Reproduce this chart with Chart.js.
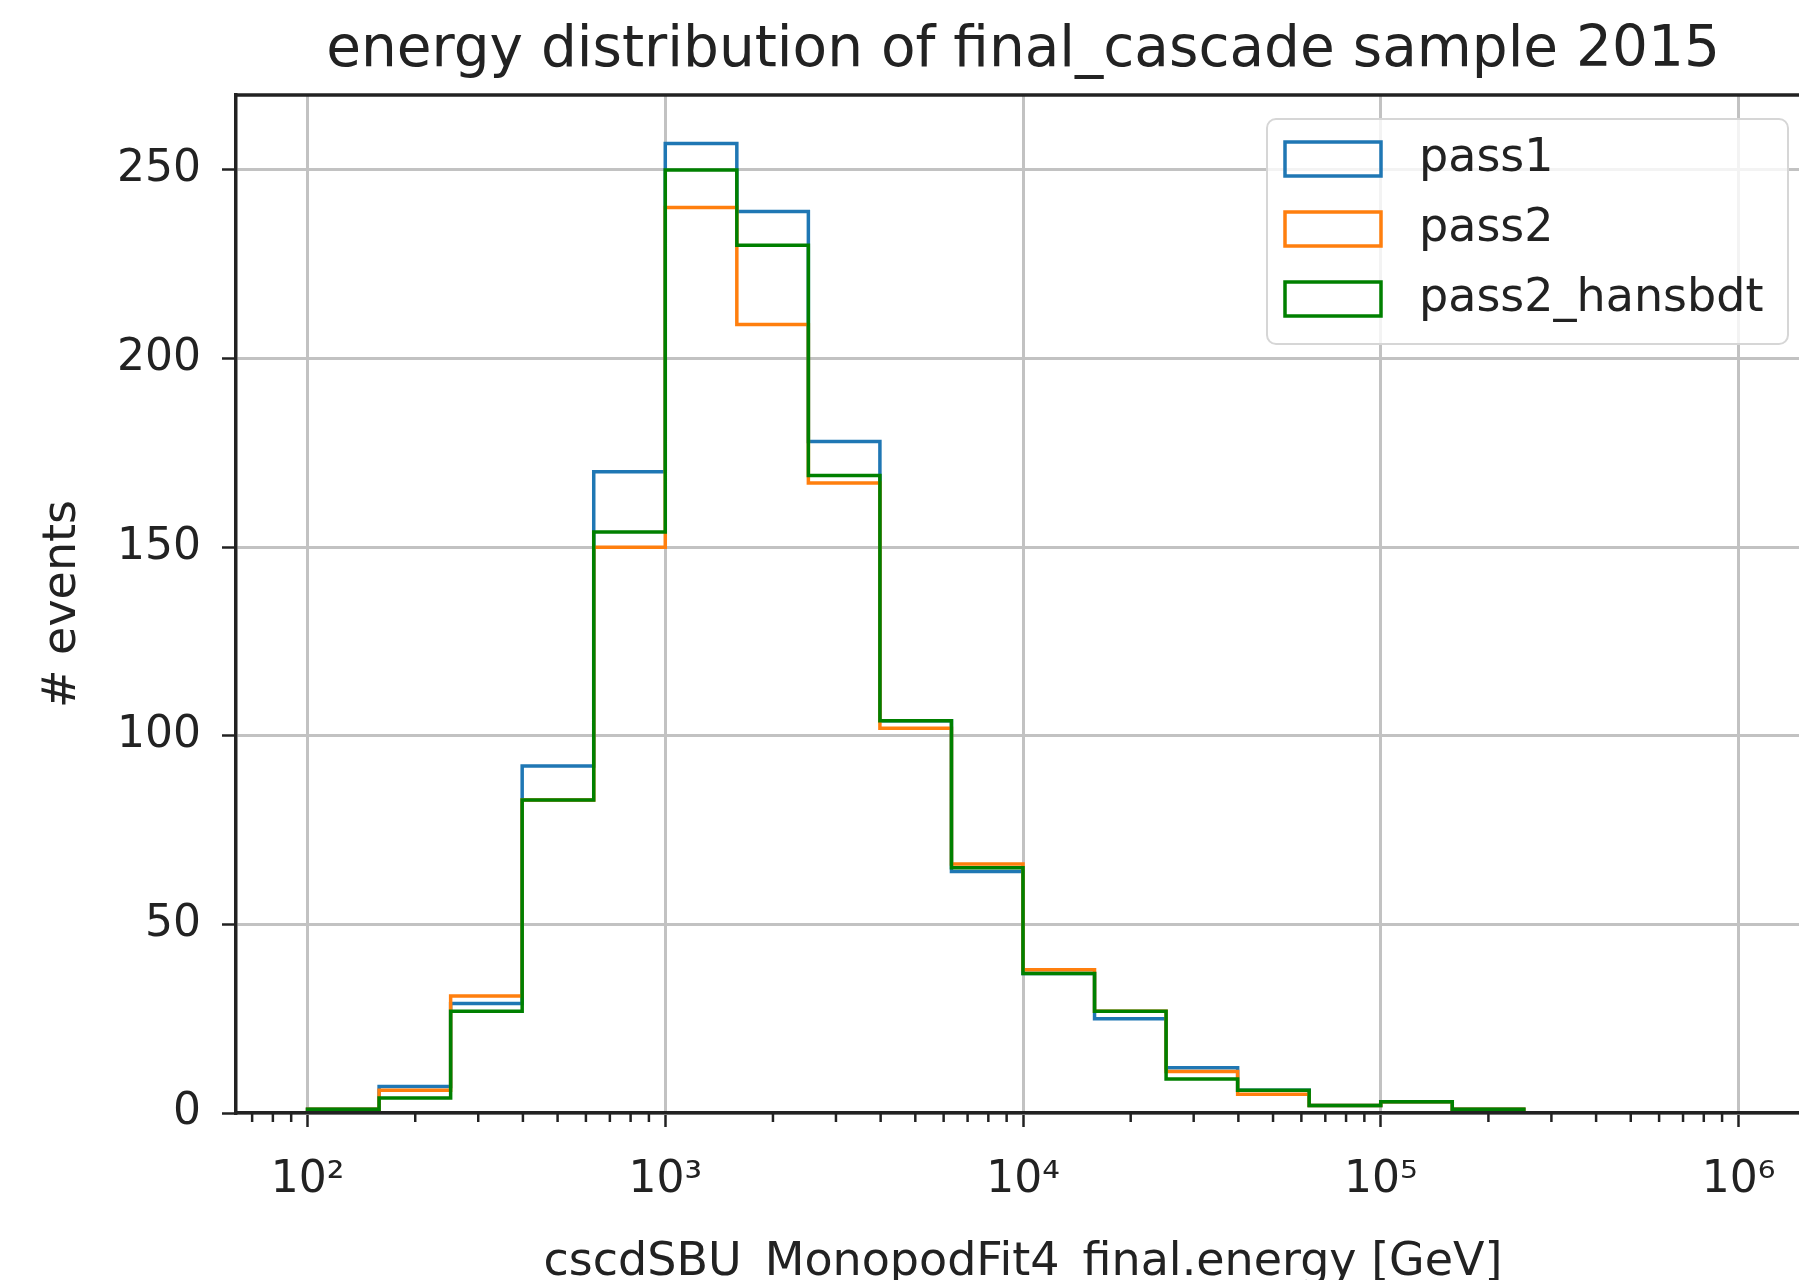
<!DOCTYPE html>
<html>
<head>
<meta charset="utf-8">
<title>energy distribution of final_cascade sample 2015</title>
<script src="https://cdn.jsdelivr.net/npm/chart.js@4.4.1/dist/chart.umd.min.js"></script>
<style>
  html, body { margin: 0; padding: 0; background: #fff; overflow: hidden; }
  #wrap { position: relative; width: 1799px; height: 1280px; overflow: hidden; }
  #hist { position: absolute; left: 0; top: 0; }
</style>
</head>
<body>
<div id="wrap"><canvas id="hist" width="1840" height="1320"></canvas></div>
<script>
// bin edges in GeV (5 log bins per decade, 10^2 .. 10^6)
var binEdges = [100, 158.5, 251.2, 398.1, 631.0, 1000, 1585, 2512, 3981, 6310,
  10000, 15849, 25119, 39811, 63096, 100000, 158489, 251189, 398107, 630957, 1000000];

// counts per bin
var pass1 = [1, 7, 29, 92, 170, 257, 239, 178, 104, 64, 37, 25, 12, 6, 2, 3, 1, 0, 0, 0];
var pass2 = [1, 6, 31, 83, 150, 240, 209, 167, 102, 66, 38, 27, 11, 5, 2, 3, 1, 0, 0, 0];
var pass2Hansbdt = [1, 4, 27, 83, 154, 250, 230, 169, 104, 65, 37, 27, 9, 6, 2, 3, 1, 0, 0, 0];

var seriesNames = ["pass1", "pass2", "pass2_hansbdt"];
var seriesColors = ["#1f77b4", "#ff7f0e", "#008000"];

var xTicks = [100, 1000, 10000, 100000, 1000000];
var xTickLabels = ["10²", "10³", "10⁴", "10⁵", "10⁶"];
var yTicks = [0, 50, 100, 150, 200, 250];

var xMin = Math.pow(10, 1.8);
var xMax = Math.pow(10, 6.2);
var yMax = 257 * 1.05;

var font = "DejaVu Sans";
var ink = "#222222";

// outline of a step histogram: up at the first edge, across each bin, down at the last edge
function stepPoints(counts) {
  var pts = [{x: binEdges[0], y: 0}];
  for (var i = 0; i < counts.length; i++) {
    pts.push({x: binEdges[i], y: counts[i]});
  }
  pts.push({x: binEdges[counts.length], y: 0});
  return pts;
}

function makeSet(i, counts) {
  return {
    label: seriesNames[i],
    data: stepPoints(counts),
    borderColor: seriesColors[i],
    backgroundColor: seriesColors[i],
    borderWidth: 3.5,
    stepped: true,
    fill: false,
    pointRadius: 0,
    borderJoinStyle: "miter",
    order: 3 - i
  };
}

var extras = {
  id: "extras",
  afterDraw: function(chart) {
    var ctx = chart.ctx;
    var area = chart.chartArea;
    var xs = chart.scales.x;
    ctx.save();

    // top spine
    ctx.strokeStyle = ink;
    ctx.lineWidth = 3.5;
    ctx.beginPath();
    ctx.moveTo(area.left - 1.75, area.top);
    ctx.lineTo(area.right, area.top);
    ctx.stroke();

    // minor ticks of the log axis
    ctx.lineWidth = 2.5;
    for (var k = 1; k <= 6; k++) {
      for (var m = 2; m <= 9; m++) {
        var v = m * Math.pow(10, k);
        if (v < xMin || v > xMax) continue;
        var px = xs.getPixelForValue(v);
        ctx.beginPath();
        ctx.moveTo(px, area.bottom);
        ctx.lineTo(px, area.bottom + 9);
        ctx.stroke();
      }
    }

    // title
    ctx.fillStyle = ink;
    ctx.font = "56.5px '" + font + "'";
    ctx.textAlign = "center";
    ctx.textBaseline = "alphabetic";
    ctx.fillText("energy distribution of final_cascade sample 2015", (area.left + area.right) / 2, 66);

    // legend box
    var lx = 1267, ly = 119, lw = 521, lh = 225, r = 9;
    ctx.beginPath();
    ctx.moveTo(lx + r, ly);
    ctx.arcTo(lx + lw, ly, lx + lw, ly + lh, r);
    ctx.arcTo(lx + lw, ly + lh, lx, ly + lh, r);
    ctx.arcTo(lx, ly + lh, lx, ly, r);
    ctx.arcTo(lx, ly, lx + lw, ly, r);
    ctx.closePath();
    ctx.fillStyle = "rgba(255,255,255,0.8)";
    ctx.fill();
    ctx.strokeStyle = "#d6d6d6";
    ctx.lineWidth = 2;
    ctx.stroke();

    ctx.font = "46px '" + font + "'";
    ctx.textAlign = "left";
    ctx.textBaseline = "middle";
    for (var i = 0; i < seriesNames.length; i++) {
      var cy = 159 + i * 70;
      ctx.strokeStyle = seriesColors[i];
      ctx.lineWidth = 3.5;
      ctx.strokeRect(1285, cy - 17, 96, 34);
      ctx.fillStyle = ink;
      ctx.fillText(seriesNames[i], 1419, cy);
    }
    ctx.restore();
  }
};

new Chart(document.getElementById("hist"), {
  type: "line",
  data: {
    datasets: [makeSet(0, pass1), makeSet(1, pass2), makeSet(2, pass2Hansbdt)]
  },
  options: {
    responsive: false,
    animation: false,
    events: [],
    layout: { padding: { top: 95, right: 30, left: 0, bottom: 0 } },
    plugins: {
      legend: { display: false },
      title: { display: false },
      tooltip: { enabled: false }
    },
    scales: {
      x: {
        type: "logarithmic",
        position: "bottom",
        min: xMin,
        max: xMax,
        afterBuildTicks: function(s) {
          s.ticks = xTicks.map(function(v) { return {value: v}; });
        },
        afterFit: function(s) { s.height = 207; },
        ticks: {
          autoSkip: false,
          maxRotation: 0,
          padding: 27,
          color: ink,
          font: { family: font, size: 44 },
          callback: function(v, i) { return xTickLabels[i]; }
        },
        grid: { color: "#c2c2c2", lineWidth: 3, tickColor: ink, tickWidth: 2.5, tickLength: 14 },
        border: { display: true, color: ink, width: 3.5, z: 1 },
        title: {
          display: true,
          text: "cscdSBU_MonopodFit4_final.energy [GeV]",
          color: ink,
          font: { family: font, size: 46 },
          padding: { top: 0, bottom: 29 }
        }
      },
      y: {
        min: 0,
        max: yMax,
        afterBuildTicks: function(s) {
          s.ticks = yTicks.map(function(v) { return {value: v}; });
        },
        afterFit: function(s) { s.width = 236; },
        ticks: {
          padding: 21,
          color: ink,
          font: { family: font, size: 44 }
        },
        grid: { color: "#c2c2c2", lineWidth: 3, tickColor: ink, tickWidth: 2.5, tickLength: 14 },
        border: { display: true, color: ink, width: 3.5, z: 1 },
        title: {
          display: true,
          text: "# events",
          color: ink,
          font: { family: font, size: 46 },
          padding: { top: 35, bottom: 0 }
        }
      }
    }
  },
  plugins: [extras]
});
</script>
</body>
</html>
